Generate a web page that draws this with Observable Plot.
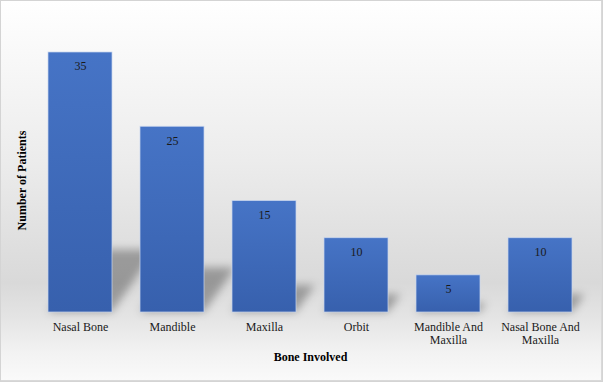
<!DOCTYPE html>
<html>
<head>
<meta charset="utf-8">
<script src="https://cdn.jsdelivr.net/npm/d3@7"></script>
<script src="https://cdn.jsdelivr.net/npm/@observablehq/plot@0.6"></script>
<style>
  html, body { margin: 0; padding: 0; background: #ffffff; }
  #chart svg { display: block; }
  #chart svg text { font-family: "Liberation Serif", "Times New Roman", serif; }
</style>
</head>
<body>
<div id="chart"></div>
<script>
const categories = ["Nasal Bone", "Mandible", "Maxilla", "Orbit", "Mandible And Maxilla", "Nasal Bone And Maxilla"];
const tickLabels = ["Nasal Bone", "Mandible", "Maxilla", "Orbit", "Mandible And\nMaxilla", "Nasal Bone And\nMaxilla"];
const patients = [35, 25, 15, 10, 5, 10];
const xTitle = "Bone Involved";
const yTitle = "Number of Patients";

const data = categories.map((c, i) => ({category: c, value: patients[i], tick: tickLabels[i]}));

const defs = () => {
  const svg = d3.create("svg:defs");
  const g = svg.append("linearGradient").attr("id", "barGrad").attr("x1", 0).attr("y1", 0).attr("x2", 0).attr("y2", 1);
  g.append("stop").attr("offset", "0%").attr("stop-color", "#4674c6");
  g.append("stop").attr("offset", "100%").attr("stop-color", "#3760ad");
  svg.append("filter").attr("id", "shadowBlur").attr("x", "-30%").attr("y", "-30%").attr("width", "160%").attr("height", "160%")
    .append("feGaussianBlur").attr("stdDeviation", 4);
  return svg.node();
};

const chart = Plot.plot({
  width: 603,
  height: 382,
  marginLeft: 32,
  marginRight: 15,
  marginTop: 52,
  marginBottom: 70,
  style: {
    fontFamily: "'Liberation Serif', 'Times New Roman', serif",
    fontSize: "12px",
    color: "#1a1a1a",
    background: "linear-gradient(to bottom, #ffffff 0%, #f7f7f7 18%, #ececec 42%, #e0e0e0 62%, #d9d9d9 74%, #e4e4e4 83%, #f2f2f2 92%, #fafafa 100%)",
    boxShadow: "inset 0 0 0 1px #d4d4d4, inset -2px -2px 0 0 #d9d9d9"
  },
  x: {domain: categories, paddingInner: 0.3, paddingOuter: 0.15, label: null},
  y: {domain: [0, 35], axis: null},
  marks: [
    defs,
    Plot.barY(data, {x: "category", y: "value", fill: "#000", fillOpacity: 0.3}),
    Plot.barY(data, {x: "category", y: "value", fill: "url(#barGrad)", stroke: "#c9d6ee", strokeWidth: 0.8, strokeOpacity: 0.9}),
    Plot.text(data, {x: "category", y: "value", text: d => String(d.value), dy: 14, fill: "#1a1a1a", fontSize: 12}),
    Plot.axisX({tickSize: 0, tickPadding: 9, fontSize: 12, lineHeight: 1.1, tickFormat: (d) => tickLabels[categories.indexOf(d)], fill: "#1a1a1a"}),
    Plot.text([xTitle], {frameAnchor: "bottom", dy: 48, fontWeight: "bold", fontSize: 12, fill: "#000"}),
    Plot.text([yTitle], {frameAnchor: "left", textAnchor: "middle", dx: -10, dy: -2, rotate: -90, fontWeight: "bold", fontSize: 12, fill: "#000"})
  ]
});

// turn the first (shadow) bar group into a blurred, skewed perspective shadow
(function () {
  const yb = chart.scale("y").apply(0);
  const k = 0.24, s = 0.7;
  const barGroups = chart.querySelectorAll("g[aria-label='bar']");
  const sg = barGroups[0];
  if (sg) {
    const outer = document.createElementNS("http://www.w3.org/2000/svg", "g");
    outer.setAttribute("filter", "url(#shadowBlur)");
    const inner = document.createElementNS("http://www.w3.org/2000/svg", "g");
    inner.setAttribute("transform", `matrix(1,0,${-s * k},${k},${s * k * yb},${yb * (1 - k)})`);
    sg.parentNode.insertBefore(outer, sg);
    outer.appendChild(inner);
    inner.appendChild(sg);
  }
})();

document.getElementById("chart").appendChild(chart);
</script>
</body>
</html>
